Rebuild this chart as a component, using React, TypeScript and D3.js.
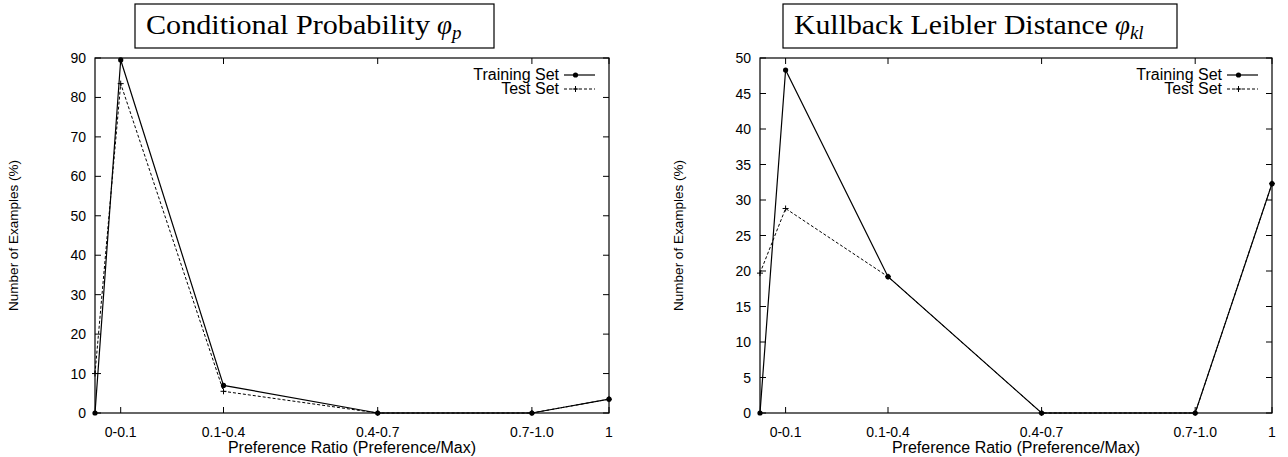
import React from "react";
import * as d3 from "d3";

const xPositions = [0, 0.05, 0.25, 0.55, 0.85, 1.0];
const xTickValues = [0.05, 0.25, 0.55, 0.85, 1];
const xTickLabels = ["0-0.1", "0.1-0.4", "0.4-0.7", "0.7-1.0", "1"];

const condTraining = [0, 89.5, 7, 0, 0, 3.5];
const condTest = [10, 83.5, 5.5, 0, 0, 3.5];
const klTraining = [0, 48.3, 19.2, 0, 0, 32.3];
const klTest = [19.7, 28.8, 19.2, 0, 0, 32.3];

const condYTicks = [0, 10, 20, 30, 40, 50, 60, 70, 80, 90];
const klYTicks = [0, 5, 10, 15, 20, 25, 30, 35, 40, 45, 50];

const legendLabels = ["Training Set", "Test Set"];
const xAxisTitle = "Preference Ratio (Preference/Max)";
const yAxisTitle = "Number of Examples (%)";

const SANS = "'Liberation Sans', Arial, Helvetica, sans-serif";
const SERIF = "'Liberation Serif', 'DejaVu Serif', serif";

type PanelProps = {
  x0: number;
  x1: number;
  yMax: number;
  yTicks: number[];
  training: number[];
  test: number[];
  titleMain: string;
  titleSub: string;
  boxX0: number;
  boxX1: number;
  textX0: number;
  textX1: number;
};

function Panel(p: PanelProps) {
  const y0 = 58;
  const y1 = 413;
  const x = d3.scaleLinear().domain([0, 1]).range([p.x0, p.x1]);
  const y = d3.scaleLinear().domain([0, p.yMax]).range([y1, y0]);
  const line = d3
    .line<number>()
    .x((_, i) => x(xPositions[i]))
    .y((d) => y(d));
  const tickLen = 6;
  const cx = (p.x0 + p.x1) / 2;
  const cy = (y0 + y1) / 2;
  const legX = p.x1 - 50;
  const sampleX0 = p.x1 - 45;
  const sampleX1 = p.x1 - 14;
  const legY = [75, 89];
  const plus = (px: number, py: number, k: string) => (
    <g key={k} stroke="#000" strokeWidth={1}>
      <line x1={px - 3} x2={px + 3} y1={py} y2={py} />
      <line x1={px} x2={px} y1={py - 3} y2={py + 3} />
    </g>
  );
  return (
    <g>
      {/* title box */}
      <rect x={p.boxX0} y={4} width={p.boxX1 - p.boxX0} height={44} fill="none" stroke="#000" strokeWidth={1.2} />
      <text
        x={p.textX0}
        y={34}
        fontFamily={SERIF}
        fontSize={27}
        textLength={p.textX1 - p.textX0}
        lengthAdjust="spacingAndGlyphs"
      >
        {p.titleMain}
      </text>
      <text x={p.textX1 + 7} y={34} fontFamily={SERIF} fontSize={27} fontStyle="italic">
        φ
        <tspan fontSize={19} dy={5}>{p.titleSub}</tspan>
      </text>

      {/* frame */}
      <rect x={p.x0} y={y0} width={p.x1 - p.x0} height={y1 - y0} fill="none" stroke="#000" strokeWidth={1.2} />

      {/* y ticks */}
      {p.yTicks.map((t) => (
        <g key={"y" + t}>
          <line x1={p.x0} x2={p.x0 + tickLen} y1={y(t)} y2={y(t)} stroke="#000" strokeWidth={1} />
          <line x1={p.x1} x2={p.x1 - tickLen} y1={y(t)} y2={y(t)} stroke="#000" strokeWidth={1} />
          <text x={p.x0 - 9} y={y(t) + 5} textAnchor="end" fontFamily={SANS} fontSize={14}>
            {t}
          </text>
        </g>
      ))}

      {/* x ticks */}
      {xTickValues.map((t, i) => (
        <g key={"x" + t}>
          <line x1={x(t)} x2={x(t)} y1={y1} y2={y1 - tickLen} stroke="#000" strokeWidth={1} />
          <line x1={x(t)} x2={x(t)} y1={y0} y2={y0 + tickLen} stroke="#000" strokeWidth={1} />
          <text x={x(t)} y={y1 + 24} textAnchor="middle" fontFamily={SANS} fontSize={14}>
            {xTickLabels[i]}
          </text>
        </g>
      ))}

      {/* axis titles */}
      <text x={cx} y={y1 + 40} textAnchor="middle" fontFamily={SANS} fontSize={16}>
        {xAxisTitle}
      </text>
      <text
        transform={`translate(${p.x0 - 77},${cy}) rotate(-90)`}
        textAnchor="middle"
        fontFamily={SANS}
        fontSize={13.5}
      >
        {yAxisTitle}
      </text>

      {/* series */}
      <path d={line(p.test) || ""} fill="none" stroke="#000" strokeWidth={1} strokeDasharray="3,2" />
      <path d={line(p.training) || ""} fill="none" stroke="#000" strokeWidth={1.2} />
      {p.test.map((v, i) => plus(x(xPositions[i]), y(v), "tp" + i))}
      {p.training.map((v, i) => (
        <circle key={"tr" + i} cx={x(xPositions[i])} cy={y(v)} r={2.6} fill="#000" />
      ))}

      {/* legend */}
      <text x={legX} y={legY[0] + 5} textAnchor="end" fontFamily={SANS} fontSize={16}>
        {legendLabels[0]}
      </text>
      <line x1={sampleX0} x2={sampleX1} y1={legY[0]} y2={legY[0]} stroke="#000" strokeWidth={1.2} />
      <circle cx={(sampleX0 + sampleX1) / 2 - 4} cy={legY[0]} r={2.6} fill="#000" />
      <text x={legX} y={legY[1] + 5} textAnchor="end" fontFamily={SANS} fontSize={16}>
        {legendLabels[1]}
      </text>
      <line x1={sampleX0} x2={sampleX1} y1={legY[1]} y2={legY[1]} stroke="#000" strokeWidth={1} strokeDasharray="3,2" />
      {plus((sampleX0 + sampleX1) / 2 - 4, legY[1], "lp")}
    </g>
  );
}

export default function App() {
  return (
    <svg
      width={1288}
      height={457}
      style={{ position: "absolute", left: 0, top: 0, background: "#fff" }}
    >
      <rect width={1288} height={457} fill="#fff" />
      <Panel
        x0={95}
        x1={609}
        yMax={90}
        yTicks={condYTicks}
        training={condTraining}
        test={condTest}
        titleMain="Conditional Probability"
        titleSub="p"
        boxX0={135}
        boxX1={494}
        textX0={146}
        textX1={430}
      />
      <Panel
        x0={760}
        x1={1272}
        yMax={50}
        yTicks={klYTicks}
        training={klTraining}
        test={klTest}
        titleMain="Kullback Leibler Distance"
        titleSub="kl"
        boxX0={783}
        boxX1={1177}
        textX0={794}
        textX1={1108}
      />
    </svg>
  );
}
